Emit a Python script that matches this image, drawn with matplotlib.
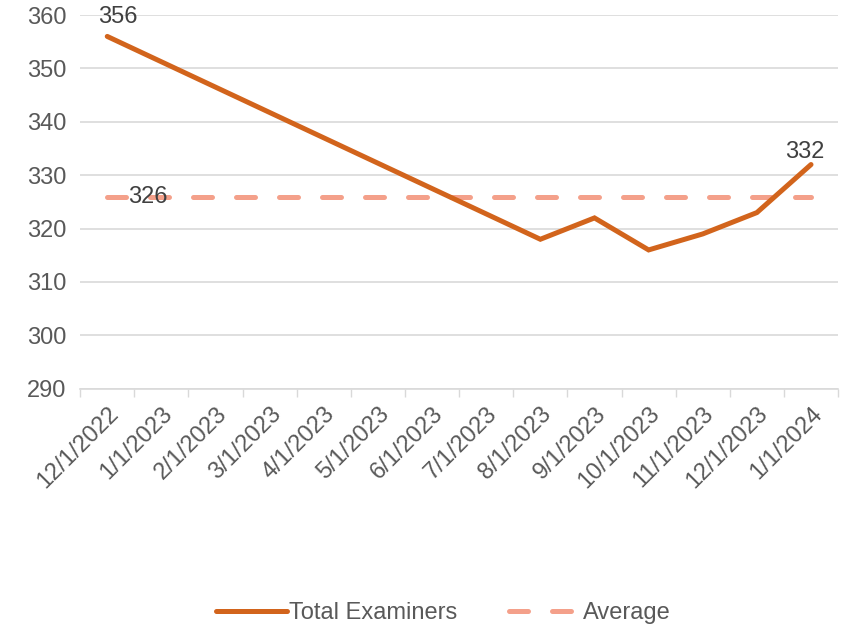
import numpy as np
import matplotlib.pyplot as plt

months = ["12/1/2022", "1/1/2023", "2/1/2023", "3/1/2023", "4/1/2023",
          "5/1/2023", "6/1/2023", "7/1/2023", "8/1/2023", "9/1/2023",
          "10/1/2023", "11/1/2023", "12/1/2023", "1/1/2024"]
# months with no value are left as None; the line is drawn across them
examiners = [356, None, None, None, None, None, None, None,
             318, 322, 316, 319, 323, 332]
average = 326

plt.rcParams['font.family'] = ['Liberation Sans', 'DejaVu Sans']
txt = '#595959'
line_col = '#D2641C'
avg_col = '#F4A08A'
fs = 17

fig = plt.figure(figsize=(8.44, 6.28), dpi=100)
ax = fig.add_axes([0.095, 0.381, 0.898, 0.595])

idx = [i for i, v in enumerate(examiners) if v is not None]
vals = [examiners[i] for i in idx]
ax.plot(idx, vals, color=line_col, lw=3.6, solid_capstyle='round',
        solid_joinstyle='miter', label='Total Examiners', zorder=3)
ax.plot(range(len(months)), [average] * len(months), color=avg_col, lw=3.6,
        dashes=(3.8, 4.8), dash_capstyle='round', label='Average', zorder=2)

# data labels
ax.text(0.19, examiners[0] + 3.6, str(examiners[0]), ha='center',
        va='center', fontsize=fs, color='#404040')
ax.text(0.38, average - 0.1, str(average), ha='left', va='center',
        fontsize=fs, color='#404040')
ax.text(len(months) - 1.11, examiners[-1] + 2.4, str(examiners[-1]),
        ha='center', va='center', fontsize=fs, color='#404040')

ax.set_xlim(-0.5, len(months) - 0.5)
ax.set_ylim(290, 360)
ax.set_yticks(np.arange(290, 361, 10))
ax.set_xticks(range(len(months)))
ax.set_xticklabels(months, rotation=45, ha='right', rotation_mode='anchor')
ax.set_xticks(np.arange(-0.5, len(months), 1), minor=True)
ax.tick_params(axis='x', which='major', length=0, pad=10, labelsize=fs,
               labelcolor=txt)
ax.tick_params(axis='x', which='minor', length=6, color='#D9D9D9', width=1)
ax.tick_params(axis='y', length=0, labelsize=fs, labelcolor=txt, pad=10)
ax.grid(axis='y', color='#D9D9D9', lw=1.2)
ax.set_axisbelow(True)
for s in ['top', 'right', 'left']:
    ax.spines[s].set_visible(False)
ax.spines['bottom'].set_color('#D9D9D9')
ax.spines['bottom'].set_linewidth(1.2)

leg = fig.legend(loc='center', bbox_to_anchor=(0.525, 0.024), ncol=2,
                 frameon=False, fontsize=fs, handlelength=3.0,
                 columnspacing=2.2, handletextpad=0.1)
for t in leg.get_texts():
    t.set_color(txt)

fig.savefig('out.png', dpi=100)
